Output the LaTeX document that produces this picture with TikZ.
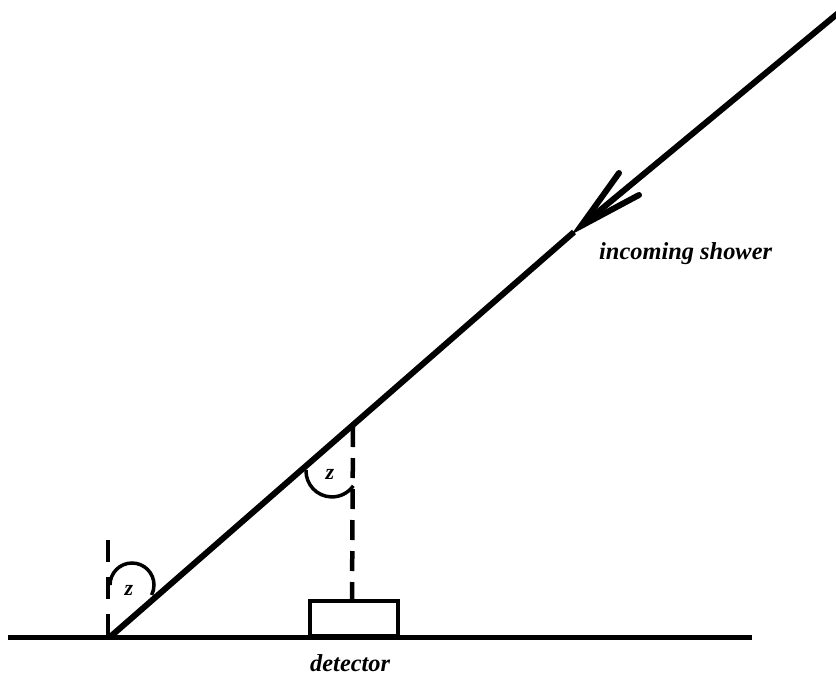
\documentclass[tikz,border=0pt]{standalone}
\usepackage{fontspec}
\setmainfont{Liberation Serif}
\usetikzlibrary{calc}
\begin{document}
\begin{tikzpicture}[x=1pt,y=-1pt,
  thickline/.style={line width=6pt},
  groundline/.style={line width=5pt},
  dashline/.style={line width=4.5pt},
  anglearc/.style={line width=3.5pt},
  boxline/.style={line width=4pt},
  lbl/.style={font=\fontsize{24.4}{26}\selectfont\bfseries\itshape, inner sep=0pt, anchor=base west},
  zlbl/.style={font=\fontsize{22}{24}\selectfont\bfseries\itshape, inner sep=0pt}]
\useasboundingbox (0,0) rectangle (836,683);
% key points
\coordinate (gl) at (8,637.5);
\coordinate (gr) at (752,637.5);
\coordinate (v) at (110,637);
\coordinate (tip) at (581,226);
\coordinate (top) at (848,5);
\coordinate (lowend) at (574,232);
\coordinate (b1) at (619,173);
\coordinate (b2) at (639,195);
\coordinate (m) at (353,427);
\coordinate (dtop) at (352,602);
\coordinate (vt) at (108,540);
\coordinate (vb) at (108,637);
% ground
\draw[groundline] (gl) -- (gr);
% incoming shower line
\draw[thickline] (v) -- (lowend);
\draw[thickline] (top) -- (tip);
\draw[thickline, line cap=round] (b1) -- (tip) -- (b2);
% left vertical dashed
\draw[dashline, dash pattern=on 22pt off 15pt] (vt) -- (vb);
% middle vertical dashed
\draw[dashline, dash pattern=on 20pt off 11pt] (m) -- (dtop);
% detector
\node[draw, boxline, minimum width=88pt, minimum height=35pt, inner sep=0pt, anchor=south west] (det) at (308,637.5) {};
% angle arcs
\draw[anglearc] (110,585) arc[start angle=180, end angle=-27, radius=22pt];
\draw[anglearc] (306,470) arc[start angle=178, end angle=325, radius=26pt];
\node[zlbl] (z1) at (129,590) {z};
\node[zlbl] (z2) at (330,474) {z};
% labels
\node[lbl] (inc) at (599,259) {incoming shower};
\node[lbl] (detl) at (310,671.5) {detector};
\end{tikzpicture}
\end{document}
